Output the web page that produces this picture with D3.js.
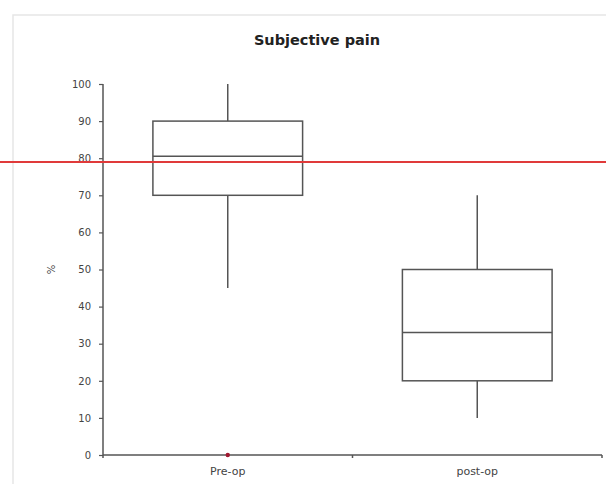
<!DOCTYPE html>
<html><head><meta charset="utf-8">
<script src="https://cdn.jsdelivr.net/npm/d3@7"></script>
<style>body{margin:0;background:#fff}svg{display:block}</style>
</head><body>
<script>
const categories = ["Pre-op", "post-op"];
const whiskerLow = [45, 10];
const q1 = [70, 20];
const median = [80.5, 33];
const q3 = [90, 50];
const whiskerHigh = [100, 70];
const referenceLine = 79;
const yTicks = [0, 10, 20, 30, 40, 50, 60, 70, 80, 90, 100];
const title = "Subjective pain";
const yLabel = "%";

const W = 606, H = 484;
const FONT = "DejaVu Sans, Verdana, sans-serif";
const svg = d3.select("body").append("svg").attr("width", W).attr("height", H);

// frame
svg.append("rect").attr("x", 13).attr("y", 15).attr("width", W).attr("height", H)
  .attr("fill", "none").attr("stroke", "#e6e6e6").attr("stroke-width", 1.5);

const m = {left: 103, right: 602, top: 84, bottom: 455};
const x = d3.scaleBand().domain(categories).range([m.left, m.right]);
const y = d3.scaleLinear().domain([0, 100]).range([m.bottom, m.top]);

svg.append("text").attr("x", 317).attr("y", 45).attr("text-anchor", "middle")
  .attr("font-family", FONT).attr("font-weight", "bold")
  .attr("font-size", 14.5).attr("fill", "#222").text(title);

const yAxis = svg.append("g").attr("transform", `translate(${m.left},0)`)
  .call(d3.axisLeft(y).tickValues(yTicks).tickSize(4).tickPadding(8));
const xAxis = svg.append("g").attr("transform", `translate(0,${m.bottom})`)
  .call(d3.axisBottom(x).tickSize(0).tickPadding(12));
xAxis.selectAll(".tick line").remove();
xAxis.selectAll(".bt").data([m.left, (m.left + m.right) / 2, m.right]).enter().append("line")
  .attr("x1", d => d).attr("x2", d => d).attr("y1", 0).attr("y2", 3).attr("stroke", "#555").attr("stroke-width", 1.5);
[yAxis, xAxis].forEach(a => {
  a.select(".domain").attr("stroke", "#555").attr("stroke-width", 1.5);
  a.selectAll(".tick line").attr("stroke", "#555").attr("stroke-width", 1.2);
  a.selectAll("text").attr("font-family", FONT).attr("fill", "#444");
});
yAxis.selectAll("text").attr("font-size", 10);
xAxis.selectAll("text").attr("font-size", 11);
yAxis.select(".domain").attr("d", `M-0,${m.top}H0V${m.bottom}H-0`);
xAxis.select(".domain").attr("d", `M${m.left},0H${m.right}`);

svg.append("text").attr("transform", `translate(51,${y(50)}) rotate(-90)`).attr("text-anchor", "middle")
  .attr("dy", "0.35em").attr("font-family", FONT).attr("font-size", 10)
  .attr("fill", "#444").text(yLabel);

const bw = x.bandwidth() * 0.6;
const g = svg.append("g").attr("stroke", "#555").attr("stroke-width", 1.5).attr("fill", "none");
categories.forEach((c, i) => {
  const cx = x(c) + x.bandwidth() / 2;
  g.append("line").attr("x1", cx).attr("x2", cx).attr("y1", y(whiskerHigh[i])).attr("y2", y(q3[i]));
  g.append("line").attr("x1", cx).attr("x2", cx).attr("y1", y(q1[i])).attr("y2", y(whiskerLow[i]));
  g.append("rect").attr("x", cx - bw / 2).attr("width", bw).attr("y", y(q3[i])).attr("height", y(q1[i]) - y(q3[i])).attr("fill", "#fff");
  g.append("line").attr("x1", cx - bw / 2).attr("x2", cx + bw / 2).attr("y1", y(median[i])).attr("y2", y(median[i]));
});

svg.append("circle").attr("cx", x("Pre-op") + x.bandwidth() / 2).attr("cy", y(0)).attr("r", 2.2).attr("fill", "#a01830");

svg.append("line").attr("x1", 0).attr("x2", W).attr("y1", y(referenceLine)).attr("y2", y(referenceLine))
  .attr("stroke", "#e03a3a").attr("stroke-width", 2);
</script>
</body></html>
